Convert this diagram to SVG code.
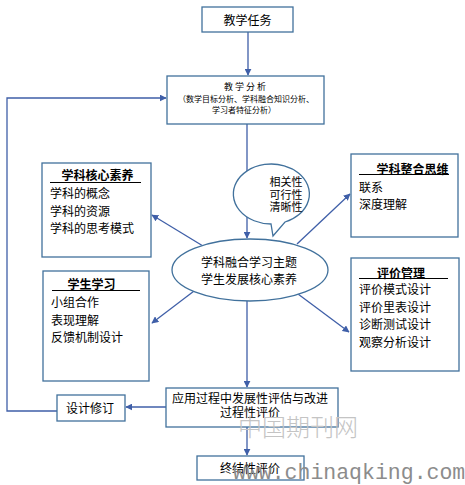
<svg xmlns="http://www.w3.org/2000/svg" width="465" height="485" viewBox="0 0 465 485">
<style>
.box{fill:#fff;stroke:#41719c;stroke-width:1.3}
.t{font-family:"Noto Sans CJK SC","Liberation Sans",sans-serif;font-size:12px;fill:#000}
.h{font-weight:bold}
.s{font-size:8px}
.c{text-anchor:middle}
.ul{stroke:#000;stroke-width:1.2}
.ln{stroke:#3f5fa8;stroke-width:1.3;fill:none}
</style>
<defs>
<marker id="ah" viewBox="0 0 10 10" refX="9" refY="5" markerWidth="7" markerHeight="7" markerUnits="userSpaceOnUse" orient="auto">
<path d="M0,0 L10,5 L0,10 z" fill="#3f5fa8"/>
</marker>
</defs>
<rect width="465" height="485" fill="#fff"/>
<g id="connectors">
<line class="ln" x1="248" y1="32" x2="248" y2="75" marker-end="url(#ah)"/>
<line class="ln" x1="247" y1="124" x2="247" y2="238" marker-end="url(#ah)"/>
<line class="ln" x1="203" y1="246" x2="152" y2="215" marker-end="url(#ah)"/>
<line class="ln" x1="198" y1="288" x2="152" y2="323" marker-end="url(#ah)"/>
<line class="ln" x1="297" y1="244" x2="350" y2="194" marker-end="url(#ah)"/>
<line class="ln" x1="298" y1="294" x2="349" y2="332" marker-end="url(#ah)"/>
<line class="ln" x1="247" y1="301" x2="247" y2="387" marker-end="url(#ah)"/>
<line class="ln" x1="247" y1="427" x2="247" y2="455" marker-end="url(#ah)"/>
<line class="ln" x1="166" y1="407" x2="126" y2="407" marker-end="url(#ah)"/>
<polyline class="ln" points="57,411 7,411 7,98 166,98" marker-end="url(#ah)"/>
</g>
<g id="task">
<rect class="box" x="202" y="7" width="91" height="25"/>
<text class="t c" x="247.5" y="24.5">教学任务</text>
</g>
<g id="analysis">
<rect class="box" x="167" y="76" width="157" height="48"/>
<text class="t c" x="246" y="90" style="font-size:9px;letter-spacing:2px">教学分析</text>
<text class="t s c" x="246" y="102">（数学目标分析、学科融合知识分析、</text>
<text class="t s c" x="244" y="113">学习者特征分析）</text>
</g>
<g id="core">
<rect class="box" x="42" y="163" width="109" height="94"/>
<text class="t h c" x="97.5" y="179.5">学科核心素养</text>
<line class="ul" x1="50" y1="182.5" x2="141" y2="182.5"/>
<text class="t" x="50" y="198">学科的概念</text>
<text class="t" x="50" y="215.5">学科的资源</text>
<text class="t" x="50" y="233">学科的思考模式</text>
</g>
<g id="learn">
<rect class="box" x="43" y="271" width="106" height="110"/>
<text class="t h c" x="91.5" y="288.5">学生学习</text>
<line class="ul" x1="52" y1="290.5" x2="140" y2="290.5"/>
<text class="t" x="51" y="306.5">小组合作</text>
<text class="t" x="51" y="324.5">表现理解</text>
<text class="t" x="51" y="341.5">反馈机制设计</text>
</g>
<g id="integrate">
<rect class="box" x="351" y="154" width="107" height="83"/>
<text class="t h c" x="412.5" y="173.5">学科整合思维</text>
<line class="ul" x1="359" y1="174.5" x2="449" y2="174.5"/>
<text class="t" x="359" y="191.5">联系</text>
<text class="t" x="359" y="208.5">深度理解</text>
</g>
<g id="evaluate">
<rect class="box" x="351" y="258" width="108" height="113"/>
<text class="t h c" x="401" y="277.5">评价管理</text>
<line class="ul" x1="359" y1="278.5" x2="448" y2="278.5"/>
<text class="t" x="359" y="293.5">评价模式设计</text>
<text class="t" x="359" y="311.5">评价里表设计</text>
<text class="t" x="359" y="328.5">诊断测试设计</text>
<text class="t" x="359" y="346.5">观察分析设计</text>
</g>
<g id="bubble">
<path class="box" d="M271,224 A38,30 0 1 1 285,222 L273,236 Z"/>
<text class="t c" x="286" y="186" style="font-size:11px">相关性</text>
<text class="t c" x="286" y="198.5" style="font-size:11px">可行性</text>
<text class="t c" x="286" y="211" style="font-size:11px">清晰性</text>
</g>
<g id="theme">
<ellipse class="box" cx="250" cy="270" rx="78" ry="31"/>
<text class="t c" x="249" y="266.5">学科融合学习主题</text>
<text class="t c" x="249" y="283.5">学生发展核心素养</text>
</g>
<g id="apply">
<rect class="box" x="166" y="388" width="172" height="39"/>
<text class="t c" x="250" y="402.5">应用过程中发展性评估与改进</text>
<text class="t c" x="250" y="416.5">过程性评价</text>
</g>
<g id="revise">
<rect class="box" x="57" y="395" width="68" height="26"/>
<text class="t c" x="90" y="412.5">设计修订</text>
</g>
<g id="final">
<rect class="box" x="197" y="456" width="107" height="24"/>
<text class="t c" x="250" y="472.5">终结性评价</text>
</g>
<g id="watermark">
<text x="298" y="436" style="font-family:'Noto Sans CJK SC',sans-serif;font-size:24px;font-weight:300;fill:#c4c4c4;text-anchor:middle">中国期刊网</text>
<text x="233" y="479" style="font-family:'Liberation Mono',monospace;font-size:21.5px;fill:#8c8c8c">www.chinaqking.com</text>
</g>
</svg>
